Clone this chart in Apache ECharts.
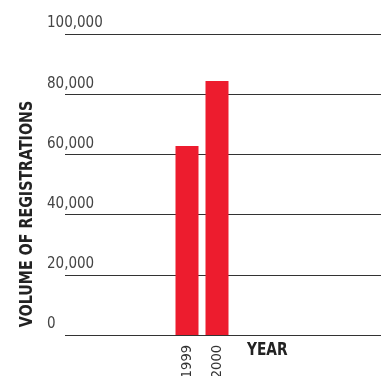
<!DOCTYPE html>
<html>
<head>
<meta charset="utf-8">
<script src="https://cdn.jsdelivr.net/npm/echarts@6/dist/echarts.min.js"></script>
<style>
html, body { margin: 0; padding: 0; background: #fff; }
#chart { width: 381px; height: 376px; }
</style>
</head>
<body>
<div id="chart"></div>
<script>
// 数据
var years = ['1999', '2000'];
var registrations = [62800, 84400];
var yTicks = [0, 20000, 40000, 60000, 80000, 100000];

var FONT = '"Liberation Sans Narrow", "DejaVu Sans Condensed", sans-serif';

var dom = document.getElementById('chart');
var myChart = echarts.init(dom);

var option = {
	backgroundColor: '#ffffff',
	animation: false,
	graphic: [{
		type: 'text',
		x: 27,
		y: 214,
		rotation: Math.PI / 2,
		scaleX: 0.88,
		style: {
			text: 'VOLUME OF REGISTRATIONS',
			fontFamily: FONT,
			fontSize: 18,
			fontWeight: 'bold',
			fill: '#222',
			align: 'center',
			verticalAlign: 'middle'
		}
	}, {
		type: 'text',
		x: 247,
		y: 351,
		scaleX: 0.9,
		style: {
			text: 'YEAR',
			fontFamily: FONT,
			fontSize: 17,
			fontWeight: 'bold',
			fill: '#222',
			align: 'left',
			verticalAlign: 'middle'
		}
	}],
	//grid0: 网格线和刻度，grid1: 柱子
	grid: [
		{ left: 65, right: 0, top: 34, bottom: 41, outerBoundsMode: 'none' },
		{ left: 172, width: 60, top: 34, bottom: 41, outerBoundsMode: 'none' }
	],
	xAxis: [{
		gridIndex: 0,
		type: 'value',
		show: false
	}, {
		gridIndex: 1,
		type: 'category',
		data: years,
		axisLine: { show: false },
		axisTick: { show: false },
		axisLabel: {
			rotate: 90,
			margin: 10,
			fontFamily: FONT,
			fontSize: 14.5,
			color: '#333'
		}
	}],
	yAxis: [{
		gridIndex: 0,
		type: 'value',
		min: yTicks[0],
		max: yTicks[yTicks.length - 1],
		interval: 20000,
		axisLine: { show: false },
		axisTick: { show: false },
		splitLine: { lineStyle: { color: '#333', width: 1.2 } },
		axisLabel: {
			align: 'left',
			verticalAlign: 'bottom',
			margin: 18,
			padding: [0, 0, 3, 0],
			fontFamily: FONT,
			fontSize: 15,
			color: '#444',
			formatter: function (v) {
				return v.toLocaleString('en-US');
			}
		}
	}, {
		gridIndex: 1,
		type: 'value',
		min: yTicks[0],
		max: yTicks[yTicks.length - 1],
		show: false
	}],
	series: [{
		type: 'bar',
		xAxisIndex: 1,
		yAxisIndex: 1,
		barWidth: 23,
		itemStyle: { color: '#ED1C2E' },
		data: registrations,
		z: 3
	}]
};
myChart.setOption(option);
</script>
</body>
</html>
